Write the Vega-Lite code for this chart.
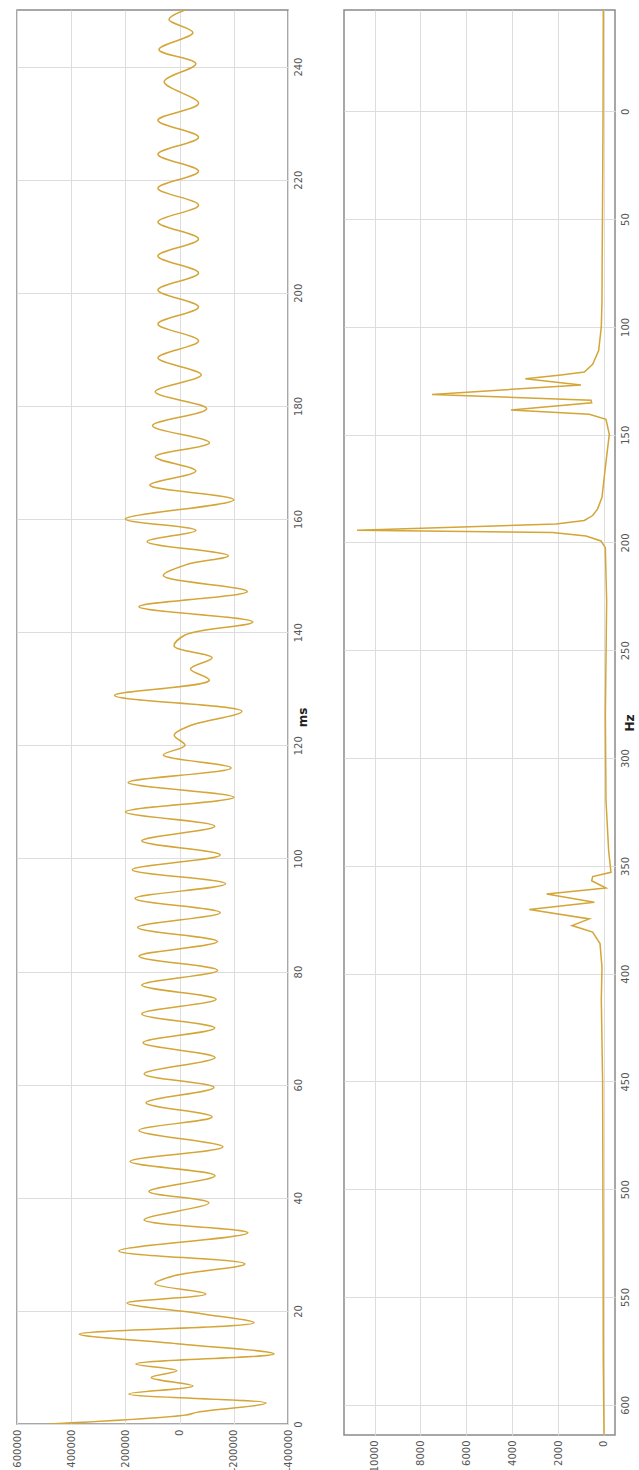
{
  "$schema": "https://vega.github.io/schema/vega-lite/v6.json",
  "padding": {"left": 11, "top": 9, "right": 0, "bottom": 0},
  "background": "white",
  "config": {
    "font": "DejaVu Sans",
    "view": {"stroke": "#8a8a8a", "strokeWidth": 1.5},
    "axis": {
      "grid": true,
      "gridColor": "#dddddd",
      "gridWidth": 1,
      "domain": false,
      "ticks": false,
      "labelFontSize": 10,
      "labelColor": "#555555",
      "labelPadding": 5,
      "titleFontSize": 12,
      "titleFontWeight": "bold",
      "titleColor": "#222222"
    }
  },
  "datasets": {
    "signal": [
      {"ms": 0, "amp": 482000}, {"ms": 1.6, "amp": -23600}, {"ms": 2.1, "amp": -68000},
      {"ms": 3.7, "amp": -319000}, {"ms": 5.3, "amp": 187000}, {"ms": 6.7, "amp": -49000},
      {"ms": 8.2, "amp": 105000}, {"ms": 9.4, "amp": 10000}, {"ms": 10.6, "amp": 161000},
      {"ms": 12.4, "amp": -348000}, {"ms": 14.2, "amp": 10000}, {"ms": 15.9, "amp": 371000},
      {"ms": 17.9, "amp": -275000}, {"ms": 19.5, "amp": -80000}, {"ms": 21.4, "amp": 194000},
      {"ms": 23.0, "amp": -97000}, {"ms": 24.8, "amp": 91000}, {"ms": 26.2, "amp": 21000},
      {"ms": 28.3, "amp": -241000}, {"ms": 30.6, "amp": 224000}, {"ms": 33.8, "amp": -252000},
      {"ms": 36.1, "amp": 131000}, {"ms": 39.1, "amp": -108000}, {"ms": 41.1, "amp": 113000},
      {"ms": 43.9, "amp": -131000}, {"ms": 46.4, "amp": 183000}, {"ms": 49.0, "amp": -160000},
      {"ms": 51.9, "amp": 150000}, {"ms": 54.3, "amp": -120000}, {"ms": 56.8, "amp": 124000},
      {"ms": 59.5, "amp": -127000}, {"ms": 61.9, "amp": 131000}, {"ms": 64.8, "amp": -131000},
      {"ms": 67.4, "amp": 135000}, {"ms": 70.0, "amp": -130000}, {"ms": 72.5, "amp": 140000},
      {"ms": 75.1, "amp": -135000}, {"ms": 77.6, "amp": 140000}, {"ms": 80.2, "amp": -140000},
      {"ms": 82.7, "amp": 150000}, {"ms": 85.3, "amp": -140000}, {"ms": 87.8, "amp": 155000},
      {"ms": 90.4, "amp": -150000}, {"ms": 92.9, "amp": 165000}, {"ms": 95.5, "amp": -170000},
      {"ms": 98.0, "amp": 175000}, {"ms": 100.6, "amp": -150000}, {"ms": 103.1, "amp": 140000},
      {"ms": 105.7, "amp": -130000}, {"ms": 108.2, "amp": 200000}, {"ms": 110.8, "amp": -200000},
      {"ms": 113.4, "amp": 190000}, {"ms": 116.0, "amp": -190000}, {"ms": 118.3, "amp": 60000},
      {"ms": 120.0, "amp": -20000}, {"ms": 121.8, "amp": 20000}, {"ms": 123.5, "amp": -40000},
      {"ms": 126.0, "amp": -230000}, {"ms": 128.8, "amp": 240000}, {"ms": 131.5, "amp": -110000},
      {"ms": 133.5, "amp": -40000}, {"ms": 135.5, "amp": -120000}, {"ms": 137.5, "amp": 20000},
      {"ms": 139.5, "amp": -20000}, {"ms": 141.8, "amp": -270000}, {"ms": 144.5, "amp": 150000},
      {"ms": 147.2, "amp": -250000}, {"ms": 150.0, "amp": 60000}, {"ms": 152.0, "amp": -30000},
      {"ms": 153.5, "amp": -180000}, {"ms": 156.0, "amp": 120000}, {"ms": 158.0, "amp": -60000},
      {"ms": 160.0, "amp": 200000}, {"ms": 163.4, "amp": -200000}, {"ms": 166.0, "amp": 110000},
      {"ms": 168.5, "amp": -60000}, {"ms": 171.0, "amp": 90000}, {"ms": 173.5, "amp": -110000},
      {"ms": 176.5, "amp": 100000}, {"ms": 179.5, "amp": -100000}, {"ms": 182.5, "amp": 90000},
      {"ms": 185.5, "amp": -80000}, {"ms": 188.5, "amp": 80000}, {"ms": 191.5, "amp": -70000},
      {"ms": 194.5, "amp": 80000}, {"ms": 197.5, "amp": -70000}, {"ms": 200.5, "amp": 80000},
      {"ms": 203.5, "amp": -70000}, {"ms": 206.5, "amp": 80000}, {"ms": 209.5, "amp": -70000},
      {"ms": 212.5, "amp": 80000}, {"ms": 215.5, "amp": -70000}, {"ms": 218.5, "amp": 80000},
      {"ms": 221.5, "amp": -70000}, {"ms": 224.5, "amp": 80000}, {"ms": 227.5, "amp": -70000},
      {"ms": 230.5, "amp": 80000}, {"ms": 233.5, "amp": -70000}, {"ms": 237.3, "amp": 57000},
      {"ms": 240.5, "amp": -60000}, {"ms": 243.0, "amp": 76000}, {"ms": 246.0, "amp": -49000},
      {"ms": 248.3, "amp": 39000}, {"ms": 250.0, "amp": -20000}
    ],
    "spectrum": [
      {"hz": -47, "mag": 30}, {"hz": 0, "mag": 40}, {"hz": 40, "mag": 60}, {"hz": 70, "mag": 80},
      {"hz": 88, "mag": 87}, {"hz": 100, "mag": 117}, {"hz": 111, "mag": 232}, {"hz": 117.3, "mag": 494},
      {"hz": 120.9, "mag": 857}, {"hz": 122.3, "mag": 1873}, {"hz": 124.1, "mag": 3427},
      {"hz": 126.9, "mag": 1002}, {"hz": 131.3, "mag": 7494}, {"hz": 134.0, "mag": 566},
      {"hz": 135.2, "mag": 537}, {"hz": 138.6, "mag": 4052}, {"hz": 140.5, "mag": 640},
      {"hz": 142.9, "mag": -87}, {"hz": 149.8, "mag": -232}, {"hz": 165.3, "mag": -58},
      {"hz": 179, "mag": 87}, {"hz": 184.4, "mag": 276}, {"hz": 187.5, "mag": 494},
      {"hz": 189.8, "mag": 857}, {"hz": 191.4, "mag": 2091}, {"hz": 194.3, "mag": 10762},
      {"hz": 195.4, "mag": 2236}, {"hz": 197.0, "mag": 784}, {"hz": 199.3, "mag": 130},
      {"hz": 202.4, "mag": -58}, {"hz": 227, "mag": -116}, {"hz": 280, "mag": -60},
      {"hz": 319.7, "mag": -87}, {"hz": 342.9, "mag": -203}, {"hz": 353.0, "mag": -305},
      {"hz": 355.0, "mag": 494}, {"hz": 356.9, "mag": 537}, {"hz": 360.3, "mag": -87},
      {"hz": 363.0, "mag": 2498}, {"hz": 366.9, "mag": 421}, {"hz": 370.2, "mag": 3253},
      {"hz": 374.6, "mag": 640}, {"hz": 377.7, "mag": 1394}, {"hz": 380.7, "mag": 494},
      {"hz": 386, "mag": 174}, {"hz": 397, "mag": 87}, {"hz": 412, "mag": 116},
      {"hz": 450, "mag": 60}, {"hz": 520, "mag": 40}, {"hz": 580, "mag": 30}, {"hz": 614, "mag": 0}
    ]
  },
  "hconcat": [
    {
      "width": 271,
      "height": 1414,
      "data": {"name": "signal"},
      "mark": {"type": "line", "interpolate": "catmull-rom", "color": "#d4a537", "strokeWidth": 1.5, "clip": true},
      "encoding": {
        "x": {
          "field": "amp", "type": "quantitative",
          "scale": {"domain": [-400000, 600000], "reverse": true, "nice": false, "zero": false},
          "axis": {"orient": "bottom", "values": [600000, 400000, 200000, 0, -200000, -400000],
                   "labelExpr": "datum.value < 0 ? '-' + abs(datum.value) : '' + datum.value",
                   "labelAngle": -90, "labelAlign": "right", "labelBaseline": "middle", "title": null}
        },
        "y": {
          "field": "ms", "type": "quantitative",
          "scale": {"domain": [0, 250], "nice": false, "zero": false},
          "axis": {"orient": "right", "values": [0, 20, 40, 60, 80, 100, 120, 140, 160, 180, 200, 220, 240],
                   "labelAngle": -90, "labelAlign": "center", "labelBaseline": "top",
                   "title": "ms", "titleAngle": -90, "titlePadding": 6}
        },
        "order": {"field": "ms", "type": "quantitative"}
      }
    },
    {
      "width": 271,
      "height": 1425,
      "data": {"name": "spectrum"},
      "mark": {"type": "line", "color": "#d4a537", "strokeWidth": 1.5, "clip": true},
      "encoding": {
        "x": {
          "field": "mag", "type": "quantitative",
          "scale": {"domain": [-480, 11330], "reverse": true, "nice": false, "zero": false},
          "axis": {"orient": "bottom", "values": [0, 2000, 4000, 6000, 8000, 10000], "format": "d",
                   "labelAngle": -90, "labelAlign": "right", "labelBaseline": "middle", "title": null}
        },
        "y": {
          "field": "hz", "type": "quantitative",
          "scale": {"domain": [-47, 614], "reverse": true, "nice": false, "zero": false},
          "axis": {"orient": "right", "values": [0, 50, 100, 150, 200, 250, 300, 350, 400, 450, 500, 550, 600],
                   "labelAngle": -90, "labelAlign": "center", "labelBaseline": "top",
                   "title": "Hz", "titleAngle": -90, "titlePadding": 6}
        },
        "order": {"field": "hz", "type": "quantitative"}
      }
    }
  ],
  "spacing": 56,
  "bounds": "flush"
}
